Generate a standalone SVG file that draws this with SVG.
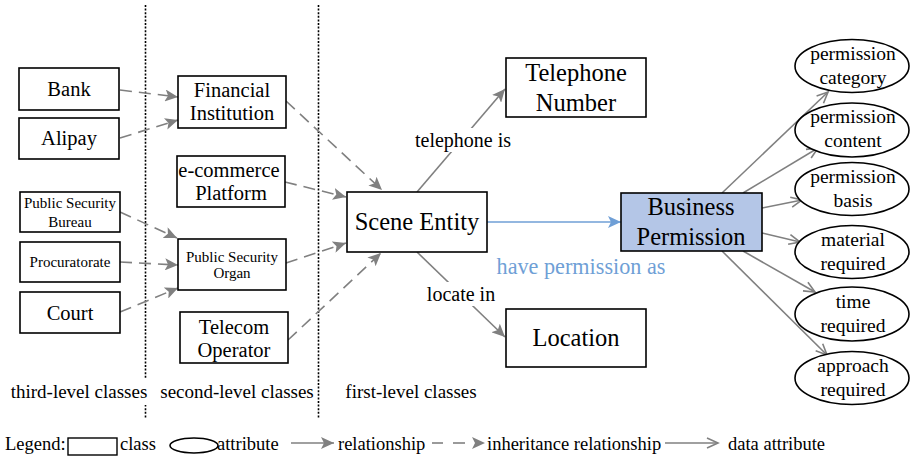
<svg xmlns="http://www.w3.org/2000/svg" width="912" height="459" viewBox="0 0 912 459" font-family="Liberation Serif, DejaVu Serif, serif">
  <style>
    text { fill: #000; text-anchor: middle; }
    .box { fill: #fff; stroke: #000; stroke-width: 1.6; }
    .bp { fill: #b4c6e7; stroke: #000; stroke-width: 1.6; }
    .attr { fill: #fff; stroke: #000; stroke-width: 1.6; }
    .t20 { font-size: 20.5px; }
    .t24 { font-size: 24.5px; }
    .t15 { font-size: 15px; }
    .t19 { font-size: 19.5px; }
    .lbl { font-size: 20px; }
    .lvl { font-size: 19px; }
    .leg { font-size: 18.5px; text-anchor: start; }
    .inh { fill: none; stroke: #808080; stroke-width: 1.6; stroke-dasharray: 12 7; marker-end: url(#tri); }
    .rel { fill: none; stroke: #808080; stroke-width: 1.6; marker-end: url(#tri); }
    .dat { fill: none; stroke: #808080; stroke-width: 1.6; marker-end: url(#open); }
    .sep { stroke: #000; stroke-width: 1.6; stroke-dasharray: 2 1.6; }
  </style>
  <defs>
    <marker id="tri" markerUnits="userSpaceOnUse" markerWidth="14" markerHeight="12" refX="13" refY="6" orient="auto">
      <path d="M0,0 L13,6 L0,12 L3,6 Z" fill="#808080"/>
    </marker>
    <marker id="triblue" markerUnits="userSpaceOnUse" markerWidth="14" markerHeight="12" refX="13" refY="6" orient="auto">
      <path d="M0,0 L13,6 L0,12 L3,6 Z" fill="#6f9fd6"/>
    </marker>
    <marker id="open" markerUnits="userSpaceOnUse" markerWidth="14" markerHeight="12" refX="12" refY="6" orient="auto">
      <path d="M1,1 L12,6 L1,11" fill="none" stroke="#808080" stroke-width="1.6"/>
    </marker>
  </defs>

  <rect width="912" height="459" fill="#fff"/>

  <!-- level separators -->
  <g id="separators">
    <line class="sep" x1="145.5" y1="5" x2="145.5" y2="418"/>
    <line class="sep" x1="318.5" y1="5" x2="318.5" y2="418"/>
  </g>

  <!-- level captions (white backing breaks the separators) -->
  <g id="level-captions">
    <rect x="6" y="378" width="146" height="27" fill="#fff"/>
    <rect x="156" y="386" width="160" height="17" fill="#fff"/>
    <text class="lvl" x="79" y="398">third-level classes</text>
    <text class="lvl" x="237" y="398">second-level classes</text>
    <text class="lvl" x="411" y="398">first-level classes</text>
  </g>

  <!-- connectors -->
  <g id="connectors">
    <!-- inheritance -->
    <line class="inh" x1="120" y1="90" x2="178" y2="97"/>
    <line class="inh" x1="120" y1="138" x2="178" y2="120"/>
    <line class="inh" x1="120" y1="212" x2="177" y2="238"/>
    <line class="inh" x1="120" y1="262" x2="178" y2="265"/>
    <line class="inh" x1="120" y1="312" x2="178" y2="288"/>
    <line class="inh" x1="286" y1="101" x2="382" y2="190"/>
    <line class="inh" x1="285" y1="182" x2="346" y2="197"/>
    <line class="inh" x1="286" y1="263" x2="346" y2="243"/>
    <line class="inh" x1="288" y1="340" x2="381" y2="253"/>

    <!-- relationships -->
    <line class="rel" x1="417" y1="192" x2="505" y2="89"/>
    <line class="rel" x1="417" y1="252" x2="505" y2="337"/>
    <line x1="487" y1="222" x2="621" y2="222" stroke="#6f9fd6" stroke-width="1.6" marker-end="url(#triblue)"/>

    <!-- data attributes -->
    <line class="dat" x1="722" y1="193" x2="828" y2="92"/>
    <line class="dat" x1="743" y1="193" x2="818" y2="148"/>
    <line class="dat" x1="762" y1="208" x2="802" y2="200"/>
    <line class="dat" x1="762" y1="233" x2="800" y2="242"/>
    <line class="dat" x1="743" y1="251" x2="815" y2="292"/>
    <line class="dat" x1="722" y1="251" x2="827" y2="355"/>

    <!-- edge labels -->
    <rect x="414" y="128" width="98" height="24" fill="#fff"/>
    <text class="lbl" x="463" y="147">telephone is</text>
    <rect x="426" y="282" width="70" height="24" fill="#fff"/>
    <text class="lbl" x="461" y="301">locate in</text>
    <text x="581" y="274" style="font-size:22.2px;fill:#6f9fd6">have permission as</text>
  </g>

  <!-- third-level classes -->
  <g id="bank">
    <rect class="box" x="19" y="68" width="100" height="42"/>
    <text class="t20" x="69" y="96">Bank</text>
  </g>
  <g id="alipay">
    <rect class="box" x="19" y="118" width="100" height="41"/>
    <text class="t20" x="69" y="145">Alipay</text>
  </g>
  <g id="public-security-bureau">
    <rect class="box" x="20" y="192" width="100" height="40"/>
    <text class="t15" x="70" y="208">Public Security</text>
    <text class="t15" x="70" y="227">Bureau</text>
  </g>
  <g id="procuratorate">
    <rect class="box" x="20" y="242" width="100" height="40"/>
    <text class="t15" x="70" y="267">Procuratorate</text>
  </g>
  <g id="court">
    <rect class="box" x="20" y="292" width="100" height="41"/>
    <text class="t20" x="70" y="320">Court</text>
  </g>

  <!-- second-level classes -->
  <g id="financial-institution">
    <rect class="box" x="178" y="76" width="108" height="52"/>
    <text class="t20" x="232" y="97">Financial</text>
    <text class="t20" x="232" y="120">Institution</text>
  </g>
  <g id="ecommerce-platform">
    <rect class="box" x="177" y="156" width="108" height="51"/>
    <text class="t20" x="229" y="177">e-commerce</text>
    <text class="t20" x="231" y="200">Platform</text>
  </g>
  <g id="public-security-organ">
    <rect class="box" x="178" y="239" width="108" height="51"/>
    <text class="t15" x="232" y="262">Public Security</text>
    <text class="t15" x="232" y="278">Organ</text>
  </g>
  <g id="telecom-operator">
    <rect class="box" x="180" y="312" width="108" height="51"/>
    <text class="t20" x="234" y="334">Telecom</text>
    <text class="t20" x="234" y="357">Operator</text>
  </g>

  <!-- first-level classes -->
  <g id="scene-entity">
    <rect class="box" x="347" y="192" width="140" height="60"/>
    <text class="t24" x="417" y="230">Scene Entity</text>
  </g>
  <g id="telephone-number">
    <rect class="box" x="506" y="58" width="140" height="59"/>
    <text class="t24" x="576" y="81">Telephone</text>
    <text class="t24" x="576" y="111">Number</text>
  </g>
  <g id="location">
    <rect class="box" x="506" y="309" width="140" height="58"/>
    <text class="t24" x="576" y="346">Location</text>
  </g>
  <g id="business-permission">
    <rect class="bp" x="621" y="193" width="141" height="58"/>
    <text class="t24" x="691" y="215">Business</text>
    <text class="t24" x="691" y="245">Permission</text>
  </g>

  <!-- attributes -->
  <g id="permission-category">
    <ellipse class="attr" cx="852" cy="66" rx="57" ry="26.5"/>
    <text class="t19" x="853" y="60">permission</text>
    <text class="t19" x="853" y="84">category</text>
  </g>
  <g id="permission-content">
    <ellipse class="attr" cx="852" cy="130" rx="57" ry="27"/>
    <text class="t19" x="853" y="123">permission</text>
    <text class="t19" x="853" y="147">content</text>
  </g>
  <g id="permission-basis">
    <ellipse class="attr" cx="852" cy="189" rx="57" ry="26.5"/>
    <text class="t19" x="853" y="183">permission</text>
    <text class="t19" x="853" y="207">basis</text>
  </g>
  <g id="material-required">
    <ellipse class="attr" cx="852" cy="252" rx="57" ry="26.5"/>
    <text class="t19" x="853" y="246">material</text>
    <text class="t19" x="853" y="270">required</text>
  </g>
  <g id="time-required">
    <ellipse class="attr" cx="852" cy="314" rx="57" ry="27"/>
    <text class="t19" x="853" y="308">time</text>
    <text class="t19" x="853" y="332">required</text>
  </g>
  <g id="approach-required">
    <ellipse class="attr" cx="852" cy="378" rx="57" ry="26.5"/>
    <text class="t19" x="853" y="372">approach</text>
    <text class="t19" x="853" y="396">required</text>
  </g>

  <!-- legend -->
  <g id="legend">
    <text class="leg" x="5" y="450">Legend:</text>
    <rect x="68" y="438" width="49" height="17" fill="#fff" stroke="#000" stroke-width="1.4"/>
    <text class="leg" x="120" y="450">class</text>
    <ellipse cx="194" cy="445.5" rx="24" ry="7.5" fill="none" stroke="#000" stroke-width="1.6"/>
    <text class="leg" x="217" y="450">attribute</text>
    <line class="rel" x1="291" y1="443" x2="334" y2="443"/>
    <text class="leg" x="338" y="450">relationship</text>
    <line x1="432" y1="443" x2="443" y2="443" stroke="#808080" stroke-width="1.6"/>
    <line x1="453" y1="443" x2="485" y2="443" stroke="#808080" stroke-width="1.6" stroke-dasharray="12 40" marker-end="url(#tri)"/>
    <text class="leg" x="487" y="450">inheritance relationship</text>
    <line class="dat" x1="665" y1="443" x2="718" y2="443"/>
    <text class="leg" x="728" y="450">data attribute</text>
  </g>
</svg>
